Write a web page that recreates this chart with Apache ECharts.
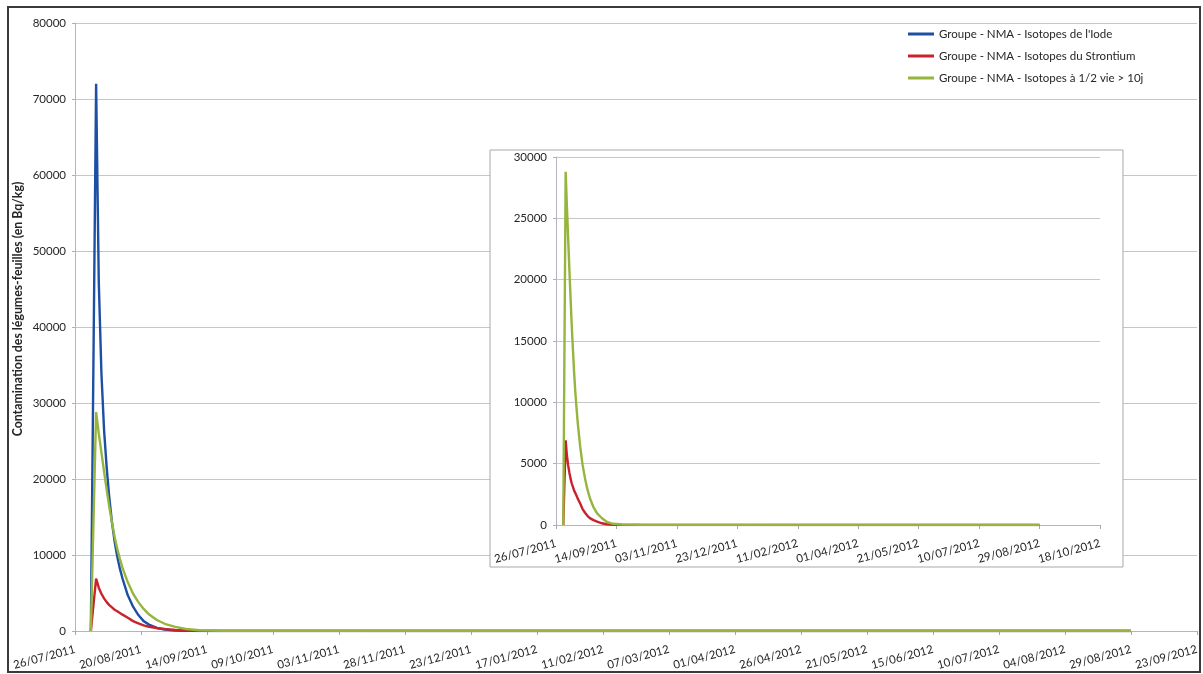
<!DOCTYPE html>
<html>
<head>
<meta charset="utf-8">
<script src="https://cdn.jsdelivr.net/npm/echarts@6/dist/echarts.min.js"></script>
<style>
html,body{margin:0;padding:0;background:#fff;}
#c{width:1203px;height:674px;}
</style>
</head>
<body>
<div id="c"></div>
<script>
// ---- data ----
const startDate = '26/07/2011';
const sampleDates = ['01/08/2011','03/08/2011','04/08/2011','05/08/2011','06/08/2011','07/08/2011','08/08/2011','09/08/2011','10/08/2011','11/08/2011','12/08/2011','13/08/2011','15/08/2011','17/08/2011','19/08/2011','21/08/2011','23/08/2011','26/08/2011','29/08/2011','02/09/2011','06/09/2011','11/09/2011','19/09/2011','04/10/2011','03/11/2011','23/12/2011','11/02/2012','01/04/2012','21/05/2012','10/07/2012','29/08/2012'];
const iode      = [0,72000,46000,34000,26500,21500,17500,14300,11800,9800,8200,6900,4700,3200,2100,1300,850,400,180,70,25,8,3,1,0,0,0,0,0,0,0];
const strontium = [0,6900,5700,4900,4300,3800,3400,3100,2800,2600,2380,2150,1750,1300,1000,750,560,400,270,140,60,20,5,2,1,1,1,1,1,1,1];
const demivie   = [0,28800,26000,23500,21000,18600,16300,14300,12400,10800,9500,8300,6400,4900,3800,2900,2200,1450,950,550,260,100,35,15,10,8,6,5,4,3,3];
const seriesNames = ["Groupe - NMA - Isotopes de l'Iode","Groupe - NMA - Isotopes du Strontium","Groupe - NMA - Isotopes à 1/2 vie > 10j"];
const yTitle = 'Contamination des légumes-feuilles (en Bq/kg)';
// axes (in days from startDate)
const mainX = {min:0, max:425, interval:25};
const mainY = {min:0, max:80000, interval:10000};
const insetX = {min:0, max:450, interval:50};
const insetY = {min:0, max:30000, interval:5000};

// ---- helpers ----
const DAY = 86400000;
function parseD(s){const p=s.split('/');return Date.UTC(+p[2],+p[1]-1,+p[0]);}
const t0 = parseD(startDate);
function dayOf(s){return Math.round((parseD(s)-t0)/DAY);}
function pad(n){return (n<10?'0':'')+n;}
function fmt(d){const dt=new Date(t0+d*DAY);return pad(dt.getUTCDate())+'/'+pad(dt.getUTCMonth()+1)+'/'+dt.getUTCFullYear();}
function pts(vals){return sampleDates.map((s,i)=>[dayOf(s),vals[i]]);}

const FONT = 'Lato';
const colors = ['#1d4fa3','#c8232c','#95b53e'];
const txt = '#262626';

function xAxisCfg(gridIndex, r, z){
  return {type:'value', gridIndex, min:r.min, max:r.max, interval:r.interval, z,
    axisLine:{show:true, lineStyle:{color:'#b4b4c4', width:1}},
    axisTick:{show:true, length:4, lineStyle:{color:'#a8a8a8'}},
    splitLine:{show:false},
    axisLabel:{rotate:15, margin:18, color:txt, fontFamily:FONT, fontSize:11.5, formatter:v=>fmt(v)}};
}
function yAxisCfg(gridIndex, r, z){
  return {type:'value', gridIndex, min:r.min, max:r.max, interval:r.interval, z,
    axisLine:{show:true, lineStyle:{color:'#b4b4c4', width:1}},
    axisTick:{show:true, length:3, lineStyle:{color:'#b0b0b0'}},
    splitLine:{show:true, lineStyle:{color:'#c6c6c6', width:1.2}},
    axisLabel:{margin:9, color:txt, fontFamily:FONT, fontSize:11.5, formatter:v=>String(v)}};
}
function lineSeries(name, vals, color, xi, yi, z){
  return {type:'line', name, data:pts(vals), xAxisIndex:xi, yAxisIndex:yi, z,
    showSymbol:false, symbol:'none', smooth:false, animation:false,
    lineStyle:{color, width:2.4}, itemStyle:{color}};
}

const chart = echarts.init(document.getElementById('c'));
chart.setOption({
  animation:false,
  backgroundColor:'#fff',
  textStyle:{fontFamily:FONT},
  grid:[
    {left:75, right:6, top:23, bottom:43},
    {left:556, right:103, top:157, bottom:149}
  ],
  xAxis:[xAxisCfg(0, mainX, 0), xAxisCfg(1, insetX, 5)],
  yAxis:[yAxisCfg(0, mainY, 0), yAxisCfg(1, insetY, 5)],
  legend:{
    orient:'vertical', left:903, top:23, itemWidth:26, itemHeight:3, itemGap:10, icon:'rect',
    textStyle:{color:txt, fontFamily:FONT, fontSize:11.5},
    data:seriesNames
  },
  graphic:[
    {type:'rect', z:3, shape:{x:490, y:150, width:633, height:417},
      style:{fill:'#fff', stroke:'#a9a9a9', lineWidth:1}},
    {type:'rect', z:10, shape:{x:8, y:7, width:1192, height:665},
      style:{fill:'none', stroke:'#3a3a3a', lineWidth:2}},
    {type:'text', z:10, x:18, y:309, rotation:Math.PI/2,
      style:{text:yTitle, fill:txt, font:'bold 12.3px Lato', align:'center', verticalAlign:'middle'}}
  ],
  series:[
    lineSeries(seriesNames[0], iode, colors[0], 0, 0, 2),
    lineSeries(seriesNames[1], strontium, colors[1], 0, 0, 2),
    lineSeries(seriesNames[2], demivie, colors[2], 0, 0, 2),
    lineSeries(seriesNames[1], strontium, colors[1], 1, 1, 6),
    lineSeries(seriesNames[2], demivie, colors[2], 1, 1, 6)
  ]
});
</script>
</body>
</html>
